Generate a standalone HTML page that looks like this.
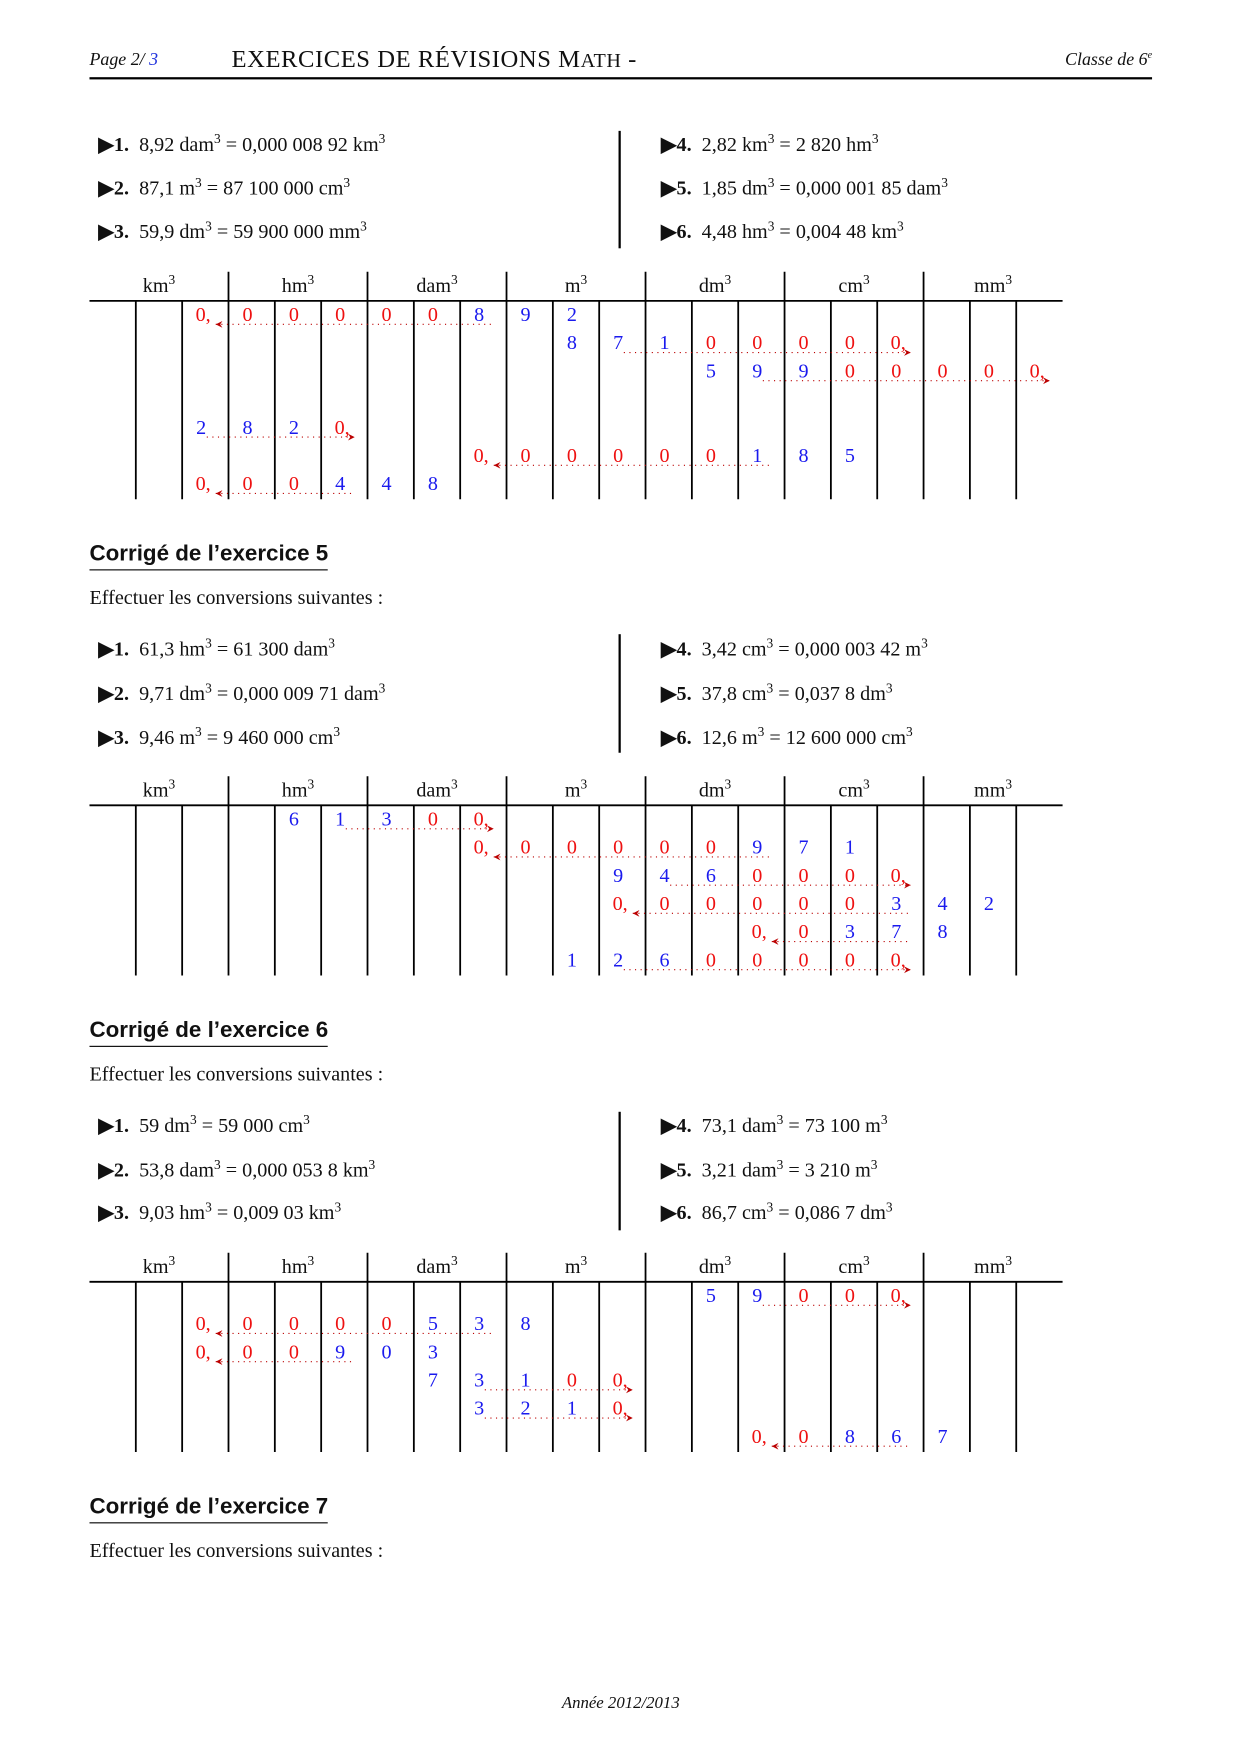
<!DOCTYPE html>
<html><head><meta charset="utf-8">
<style>
html,body{margin:0;padding:0;background:#fff;}
body{width:1240px;height:1754px;overflow:hidden;position:relative;}
#page{position:absolute;left:0;top:0;width:1100px;height:1556px;transform:scale(1.1185);transform-origin:0 0;font-family:"Liberation Serif",serif;color:#111;}
.t{position:absolute;white-space:nowrap;line-height:1;}
.m{font-size:18px;}
.h{font-family:"Liberation Sans",sans-serif;font-weight:bold;font-size:20px;border-bottom:1.5px solid #000;padding-bottom:3px;}
sup{font-size:12px;vertical-align:7px;line-height:0;}
b{font-weight:bold;}
</style></head><body>
<div id="page">
<div class="t" style="left:80px;top:46px;font-size:16px;font-style:italic">Page 2/ <span style="color:#2233dd">3</span></div>
<div class="t" style="left:207px;top:42px;font-size:22px;letter-spacing:0.5px">EXERCICES DE RÉVISIONS M<span style="font-size:18px">ATH</span> -</div>
<div class="t" style="right:70px;top:46px;font-size:16px;font-style:italic">Classe de 6<sup style="font-size:9px;vertical-align:6px">e</sup></div>
<div style="position:absolute;left:80px;top:69px;width:950px;height:1.5px;background:#000"></div>

<svg id="svg" width="1100" height="1556" style="position:absolute;left:0;top:0"></svg>

<div class="t" style="left:80px;top:485px"><span class="h">Corrigé de l’exercice 5</span></div>
<div class="t m" style="left:80px;top:525px">Effectuer les conversions suivantes :</div>
<div class="t" style="left:80px;top:911px"><span class="h">Corrigé de l’exercice 6</span></div>
<div class="t m" style="left:80px;top:951px">Effectuer les conversions suivantes :</div>
<div class="t" style="left:80px;top:1337px"><span class="h">Corrigé de l’exercice 7</span></div>
<div class="t m" style="left:80px;top:1377px">Effectuer les conversions suivantes :</div>
<div class="t" style="left:0;width:1110px;text-align:center;top:1516px;font-size:15px;font-style:italic">Année 2012/2013</div>
<div id="lists"></div>
</div>
<script>
const units=["km","hm","dam","m","dm","cm","mm"];
const lists=[
 {y:[130,169,208],div:[117,222],items:[
  "8,92 dam<sup>3</sup> = 0,000 008 92 km<sup>3</sup>","87,1 m<sup>3</sup> = 87 100 000 cm<sup>3</sup>","59,9 dm<sup>3</sup> = 59 900 000 mm<sup>3</sup>",
  "2,82 km<sup>3</sup> = 2 820 hm<sup>3</sup>","1,85 dm<sup>3</sup> = 0,000 001 85 dam<sup>3</sup>","4,48 hm<sup>3</sup> = 0,004 48 km<sup>3</sup>"]},
 {y:[581,621,660],div:[567,673],items:[
  "61,3 hm<sup>3</sup> = 61 300 dam<sup>3</sup>","9,71 dm<sup>3</sup> = 0,000 009 71 dam<sup>3</sup>","9,46 m<sup>3</sup> = 9 460 000 cm<sup>3</sup>",
  "3,42 cm<sup>3</sup> = 0,000 003 42 m<sup>3</sup>","37,8 cm<sup>3</sup> = 0,037 8 dm<sup>3</sup>","12,6 m<sup>3</sup> = 12 600 000 cm<sup>3</sup>"]},
 {y:[1007,1047,1085],div:[994,1100],items:[
  "59 dm<sup>3</sup> = 59 000 cm<sup>3</sup>","53,8 dam<sup>3</sup> = 0,000 053 8 km<sup>3</sup>","9,03 hm<sup>3</sup> = 0,009 03 km<sup>3</sup>",
  "73,1 dam<sup>3</sup> = 73 100 m<sup>3</sup>","3,21 dam<sup>3</sup> = 3 210 m<sup>3</sup>","86,7 cm<sup>3</sup> = 0,086 7 dm<sup>3</sup>"]}
];
// Values per table
const t1Digits=["000000892","87100000","59900000","2820","000000185","000448"];
const t1Colors=["rrrrrrbbb","bbbrrrrr","bbbrrrrr","bbbr","rrrrrrbbb","rrrbbb"];
const t1Rows=[0,1,2,4,5,6];
const t1Start=[2,10,13,2,8,2];
const t1Comma=[0,7,7,3,0,0];
const t1Dot=[[2,8],[11,17],[14,20],[2,5],[8,14],[2,5]];
const t2Digits=["61300","000000971","9460000","000000342","00378","12600000"];
const t2Colors=["bbbrr","rrrrrrbbb","bbbrrrr","rrrrrrbbb","rrbbb","bbbrrrrr"];
const t2Rows=[0,1,2,3,4,5];
const t2Start=[4,8,11,11,14,10];
const t2Comma=[4,0,6,0,0,7];
const t2Dot=[[5,8],[8,14],[12,17],[11,17],[14,17],[11,17]];
const t3Digits=["59000","00000538","000903","73100","3210","00867"];
const t3Colors=["bbrrr","rrrrrbbb","rrrbbb","bbbrr","bbbr","rrbbb"];
const t3Rows=[0,1,2,3,4,5];
const t3Start=[13,2,2,7,8,14];
const t3Comma=[4,0,0,4,3,0];
const t3Dot=[[14,17],[2,8],[2,5],[8,11],[8,11],[14,17]];
const tableTops=[243,694,1120];
const rowCounts=[7,6,6];

const svg=document.getElementById('svg');
const NS="http://www.w3.org/2000/svg";
const X0=80,CW=870/21;
function colX(i){return X0+CW*i;}
function rowY(top,r){return top+38+r*25.2;}
function mk(tag,attrs){const e=document.createElementNS(NS,tag);for(const k in attrs)e.setAttribute(k,attrs[k]);svg.appendChild(e);return e;}

const allT=[[t1Digits,t1Colors,t1Rows,t1Start,t1Comma,t1Dot],[t2Digits,t2Colors,t2Rows,t2Start,t2Comma,t2Dot],[t3Digits,t3Colors,t3Rows,t3Start,t3Comma,t3Dot]];
allT.forEach((T,ti)=>{
 const top=tableTops[ti];
 const bottom=top+26+rowCounts[ti]*25.2+1;
 const hl=mk('line',{x1:X0,x2:950,y1:top+26,y2:top+26,stroke:'#000','stroke-width':1.6});
 
 
 for(let i=1;i<=20;i++){
  const major=i%3===0;
  const l=mk('line',{x1:colX(i),x2:colX(i),y1:major?top:top+26,y2:bottom,stroke:'#000','stroke-width':1.6});
  
  
 }
 units.forEach((u,k)=>{
  const t=mk('text',{x:colX(3*k+1.5),y:top+18,'text-anchor':'middle','font-size':18,'font-family':'Liberation Serif, serif',fill:'#111'});
  t.innerHTML=u+'<tspan dy="-7" font-size="12">3</tspan>';
  
  
 });
 const [D,C,R,S,CM,DT]=T;
 D.forEach((ds,j)=>{
  const y=rowY(top,R[j]);
  const dy=y+9;
  const xa=colX(DT[j][0])+(DT[j][0]===S[j]&&CM[j]===0?30:22), xb=colX(DT[j][1])+30;
  const dl=mk('line',{x1:xa,x2:xb,y1:dy,y2:dy,stroke:'#b00','stroke-width':1,'stroke-dasharray':'1 4'});
  
  
  const tip=(CM[j]===0)?xa:xb;
  const dir=(CM[j]===0)?-1:1;
  const ar=mk('path',{d:`M${tip} ${dy} l${-dir*6} -3 l${dir*2} 3 l${-dir*2} 3z`,fill:'#b00'});
  
  
  for(let k=0;k<ds.length;k++){
   const x=colX(S[j]+k)+17;
   const t=mk('text',{x:x,y:y+6,'text-anchor':'middle','font-size':18,'font-family':'Liberation Serif, serif',fill:C[j][k]==='r'?'#ee1111':'#1a1aee'});
   t.textContent=ds[k]+(k===CM[j]?',':'');
   if(k===CM[j])t.setAttribute('text-anchor','start'),t.setAttribute('x',x-5);
   
   
  }
 });
});

const L=document.getElementById('lists');
lists.forEach((ls,li)=>{
 const dv=document.createElement('div');
 dv.style.cssText=`position:absolute;left:553px;top:${ls.div[0]}px;width:1.5px;height:${ls.div[1]-ls.div[0]}px;background:#000`;
 
 
 L.appendChild(dv);
 ls.items.forEach((it,k)=>{
  const right=k>=3;
  const e=document.createElement('div');
  e.className='t m';
  e.style.left=(right?591:88)+'px';
  e.style.top=(ls.y[k%3]-10)+'px';
  e.innerHTML=`<b>&#9654;${k+1}.</b>&nbsp; `+it;
  
  
  L.appendChild(e);
 });
});
</script>
</body></html>
